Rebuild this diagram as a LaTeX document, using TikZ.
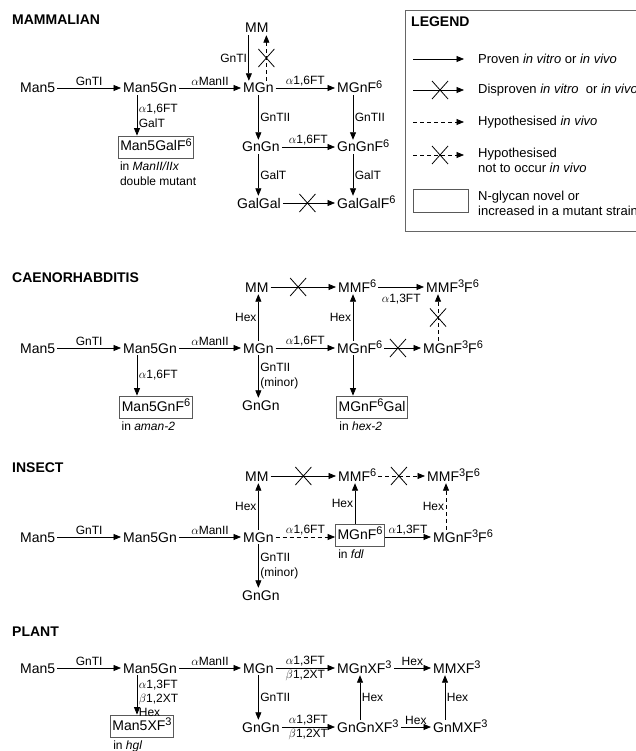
\documentclass[tikz,border=0pt]{standalone}
\usepackage{fontspec}
\setmainfont{Liberation Sans}
\usetikzlibrary{arrows.meta,calc}
\newcommand\mf{\fontsize{14}{16}\selectfont}
\newcommand\lf{\fontsize{12}{15}\selectfont}
\newcommand\gf{\fontsize{13}{15}\selectfont}
\newcommand\hf{\fontsize{14}{16}\selectfont\bfseries}
\newcommand\sps[1]{\raisebox{4.5pt}{\fontsize{11}{11}\selectfont #1}}
\newcommand\xcr[1]{\draw[line width=0.8pt] ($(#1)+(-8,-9)$) -- ($(#1)+(8,9)$) ($(#1)+(-8,9)$) -- ($(#1)+(8,-9)$);}
\tikzset{
  g/.style={font=\mf, inner sep=2pt, text height=10pt, text depth=0pt, anchor=west},
  bx/.style={font=\mf, draw=black!65, line width=0.8pt, inner xsep=2pt, inner ysep=4pt, text height=11pt, text depth=3pt},
  lab/.style={font=\lf, inner sep=1.5pt},
  ar/.style={-{Triangle[length=7.5pt,width=6pt]}, line width=0.8pt},
  dar/.style={ar, dash pattern=on 4pt off 3pt},
  hd/.style={font=\hf, anchor=west, inner sep=0pt},
  note/.style={font=\lf, anchor=north west, inner sep=0pt, align=left},
  lgt/.style={font=\gf, anchor=west, inner sep=0pt, align=left},
}
\begin{document}
\begin{tikzpicture}[x=1pt,y=-1pt]
\clip (0,0) rectangle (636,751);
\fill[white] (0,0) rectangle (636,751);
% ================= MAMMALIAN
\node[hd] (hm) at (12,20) {MAMMALIAN};
\node[g] (Am5) at (18,88) {Man5};
\node[g] (Am5g) at (121,88) {Man5Gn};
\node[g] (Amgn) at (241,88) {MGn};
\node[g] (Amgnf) at (335,88) {MGnF\sps{6}};
\node[g] (Amm) at (243,28) {MM};
\node[g] (Agg) at (240,147) {GnGn};
\node[g] (Aggf) at (335,147) {GnGnF\sps{6}};
\node[g] (Agal) at (235,203) {GalGal};
\node[g] (Agalf) at (335,203) {GalGalF\sps{6}};
\node[bx] (Am5gal) at (156,147) {Man5GalF\sps{6}};
\node[note] (Anote) at ($(Am5gal.south west)+(2,3)$) {in \textit{ManII/IIx}\\double mutant};
\draw[ar] (Am5) -- node[lab,above]{GnTI} (Am5g);
\draw[ar] (Am5g) -- node[lab,above]{$\alpha$ManII} (Amgn);
\draw[ar] (Amgn) -- node[lab,above]{$\alpha$1,6FT} (Amgnf);
\draw[ar] ($(Amm.south)+(-8,0)$) -- node[lab,left]{GnTI} ($(Amm.south |- Amgn.north)+(-8,0)$);
\draw[dar] ($(Amgn.north)+(8,0)$) -- coordinate[midway] (Ac1) ($(Amgn.north |- Amm.south)+(8,0)$);
\xcr{Ac1}
\draw[ar] (Amgn.south) -- node[lab,right]{GnTII} (Amgn.south |- Agg.north);
\draw[ar] (Amgn.south |- Agg.south) -- node[lab,right]{GalT} (Amgn.south |- Agal.north);
\draw[ar] ($(Amgnf.south west)+(18,0)$) -- node[lab,right]{GnTII} ($(Amgnf.south west |- Aggf.north)+(18,0)$);
\draw[ar] ($(Aggf.south west)+(18,0)$) -- node[lab,right]{GalT} ($(Aggf.south west |- Agalf.north)+(18,0)$);
\draw[ar] (Agg) -- node[lab,above]{$\alpha$1,6FT} (Aggf);
\draw[ar] (Agal) -- coordinate[pos=.47] (Ac2) (Agalf);
\xcr{Ac2}
\draw[ar] ($(Am5g.south west)+(16,0)$) -- node[lab,right,align=left]{$\alpha$1,6FT\\GalT} ($(Am5g.south west |- Am5gal.north)+(16,0)$);
% ================= LEGEND
\draw[black!60, line width=0.8pt] (405,10) rectangle (680,231);
\node[hd] (lgh) at (411,22) {LEGEND};
\coordinate (L1a) at (413,59); \coordinate (L1b) at (464,59);
\coordinate (L2a) at (413,90); \coordinate (L2b) at (464,90);
\coordinate (L3a) at (413,122); \coordinate (L3b) at (464,122);
\coordinate (L4a) at (413,155); \coordinate (L4b) at (464,155);
\draw[ar] (L1a) -- (L1b);
\draw[ar] (L2a) -- coordinate[pos=.53] (Lx2) (L2b); \xcr{Lx2}
\draw[dar] (L3a) -- (L3b);
\draw[dar] (L4a) -- coordinate[pos=.53] (Lx4) (L4b); \xcr{Lx4}
\node[lgt] (lt1) at (478,59) {Proven \textit{in vitro} or \textit{in vivo}};
\node[lgt] (lt2) at (478,90) {Disproven \textit{in vitro}~ or \textit{in vivo}};
\node[lgt] (lt3) at (478,122) {Hypothesised \textit{in vivo}};
\node[lgt] (lt4) at (478,160) {Hypothesised\\not to occur \textit{in vivo}};
\draw[black!65, line width=0.8pt] (413,189) rectangle (468,212);
\node[lgt] (lt5) at (478,203) {N-glycan novel or\\increased in a mutant strain};
% ================= CAENORHABDITIS
\node[hd] (hc) at (12,278) {CAENORHABDITIS};
\node[g] (Bmm) at (243,287) {MM};
\node[g] (Bmmf) at (336,287) {MMF\sps{6}};
\node[g] (Bmmff) at (424,287) {MMF\sps{3}F\sps{6}};
\node[g] (Bm5) at (18,348) {Man5};
\node[g] (Bm5g) at (121,348) {Man5Gn};
\node[g] (Bmgn) at (241,348) {MGn};
\node[g] (Bmgnf) at (335,348) {MGnF\sps{6}};
\node[g] (Bmgnff) at (421,348) {MGnF\sps{3}F\sps{6}};
\node[g] (Bgg) at (240,405) {GnGn};
\node[bx] (Bm5gnf) at (156,407) {Man5GnF\sps{6}};
\node[bx] (Bmgnfgal) at (372,407) {MGnF\sps{6}Gal};
\node[note] (Bnote1) at ($(Bm5gnf.south west)+(2,3)$) {in \textit{aman-2}};
\node[note] (Bnote2) at ($(Bmgnfgal.south west)+(3,3)$) {in \textit{hex-2}};
\draw[ar] (Bm5) -- node[lab,above]{GnTI} (Bm5g);
\draw[ar] (Bm5g) -- node[lab,above]{$\alpha$ManII} (Bmgn);
\draw[ar] (Bmgn) -- node[lab,above]{$\alpha$1,6FT} (Bmgnf);
\draw[ar] (Bmgnf) -- coordinate[pos=.37] (Bc1) (Bmgnff); \xcr{Bc1}
\draw[ar] (Bmm) -- coordinate[pos=.42] (Bc2) (Bmmf); \xcr{Bc2}
\draw[ar] (Bmmf) -- node[lab,below=5pt]{$\alpha$1,3FT} (Bmmff);
\draw[ar] (Bmgn.north) -- node[lab,left]{Hex} (Bmgn.north |- Bmm.south);
\draw[ar] ($(Bmgnf.north west)+(18,0)$) -- node[lab,left]{Hex} ($(Bmgnf.north west |- Bmmf.south)+(18,0)$);
\draw[dar] ($(Bmgnff.north west)+(17,0)$) -- coordinate[midway] (Bc3) ($(Bmgnff.north west |- Bmmff.south)+(17,0)$); \xcr{Bc3}
\draw[ar] (Bmgn.south) -- node[lab,right,align=left]{GnTII\\(minor)} (Bmgn.south |- Bgg.north);
\draw[ar] ($(Bmgnf.south west)+(18,0)$) -- ($(Bmgnf.south west |- Bmgnfgal.north)+(18,0)$);
\draw[ar] ($(Bm5g.south west)+(16,0)$) -- node[lab,right]{$\alpha$1,6FT} ($(Bm5g.south west |- Bm5gnf.north)+(16,0)$);
% ================= INSECT
\node[hd] (hi) at (12,468) {INSECT};
\node[g] (Cmm) at (243,476) {MM};
\node[g] (Cmmf) at (336,476) {MMF\sps{6}};
\node[g] (Cmmff) at (425,476) {MMF\sps{3}F\sps{6}};
\node[g] (Cm5) at (18,537) {Man5};
\node[g] (Cm5g) at (121,537) {Man5Gn};
\node[g] (Cmgn) at (241,537) {MGn};
\node[bx] (Cmgnf) at (360,535) {MGnF\sps{6}};
\node[g] (Cmgnff) at (431,537) {MGnF\sps{3}F\sps{6}};
\node[g] (Cgg) at (240,595) {GnGn};
\node[note] (Cnote) at ($(Cmgnf.south west)+(3,3)$) {in \textit{fdl}};
\draw[ar] (Cm5) -- node[lab,above]{GnTI} (Cm5g);
\draw[ar] (Cm5g) -- node[lab,above]{$\alpha$ManII} (Cmgn);
\draw[dar] (Cmgn) -- node[lab,above]{$\alpha$1,6FT} (Cmgn -| Cmgnf.west);
\draw[ar] (Cmgnf.east |- Cmgnff) -- node[lab,above]{$\alpha$1,3FT} (Cmgnff);
\draw[ar] (Cmm) -- coordinate[pos=.5] (Cc1) (Cmmf); \xcr{Cc1}
\draw[dar] (Cmmf) -- coordinate[pos=.44] (Cc2) (Cmmff); \xcr{Cc2}
\draw[ar] (Cmgn.north) -- node[lab,left]{Hex} (Cmgn.north |- Cmm.south);
\draw[ar] ($(Cmgnf.north)+(-5,0)$) -- node[lab,left]{Hex} ($(Cmgnf.north |- Cmmf.south)+(-5,0)$);
\draw[dar] ($(Cmgnff.north west)+(15,0)$) -- node[lab,left]{Hex} ($(Cmgnff.north west |- Cmmff.south)+(15,0)$);
\draw[ar] (Cmgn.south) -- node[lab,right,align=left]{GnTII\\(minor)} (Cmgn.south |- Cgg.north);
% ================= PLANT
\node[hd] (hp) at (12,632) {PLANT};
\node[g] (Dm5) at (18,668) {Man5};
\node[g] (Dm5g) at (121,668) {Man5Gn};
\node[g] (Dmgn) at (241,668) {MGn};
\node[g] (Dmgnx) at (335,668) {MGnXF\sps{3}};
\node[g] (Dmmx) at (431,668) {MMXF\sps{3}};
\node[g] (Dgg) at (240,727) {GnGn};
\node[g] (Dggx) at (335,727) {GnGnXF\sps{3}};
\node[g] (Dgmx) at (431,727) {GnMXF\sps{3}};
\node[bx] (Dm5x) at (142,726) {Man5XF\sps{3}};
\node[note] (Dnote) at ($(Dm5x.south west)+(3,3)$) {in \textit{hgl}};
\draw[ar] (Dm5) -- node[lab,above]{GnTI} (Dm5g);
\draw[ar] (Dm5g) -- node[lab,above]{$\alpha$ManII} (Dmgn);
\draw[ar] (Dmgn) -- node[lab,above]{$\alpha$1,3FT} node[lab,below]{$\beta$1,2XT} (Dmgnx);
\draw[ar] (Dgg) -- node[lab,above]{$\alpha$1,3FT} node[lab,below]{$\beta$1,2XT} (Dggx);
\draw[ar] (Dmgnx) -- node[lab,above]{Hex} (Dmmx);
\draw[ar] (Dggx) -- node[lab,above]{Hex} (Dgmx);
\draw[ar] ($(Dggx.north west)+(25,0)$) -- node[lab,right]{Hex} ($(Dggx.north west |- Dmgnx.south)+(25,0)$);
\draw[ar] ($(Dgmx.north west)+(14,0)$) -- node[lab,right]{Hex} ($(Dgmx.north west |- Dmmx.south)+(14,0)$);
\draw[ar] (Dmgn.south) -- node[lab,right]{GnTII} (Dmgn.south |- Dgg.north);
\draw[ar] ($(Dm5g.south west)+(16,0)$) -- node[lab,right,align=left,font=\fontsize{12}{14}\selectfont,pos=.58]{$\alpha$1,3FT\\$\beta$1,2XT\\Hex} ($(Dm5g.south west |- Dm5x.north)+(16,0)$);
\end{tikzpicture}
\end{document}
